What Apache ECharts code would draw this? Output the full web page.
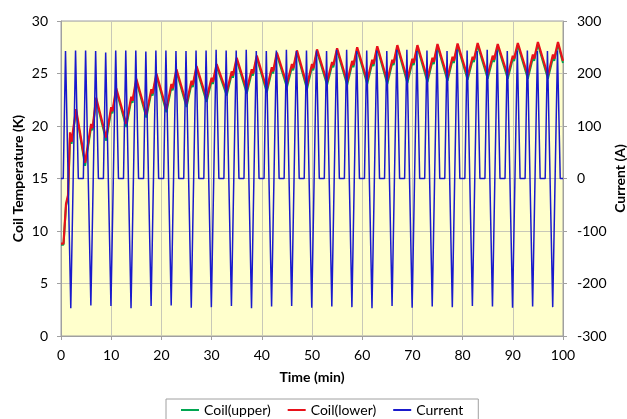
<!DOCTYPE html>
<html>
<head>
    <meta charset="utf-8">
    <title>Coil temperature and current</title>
    <script src="https://cdn.jsdelivr.net/npm/echarts@6/dist/echarts.min.js"></script>
</head>
<body style="margin:0;">
<div id="main" style="width: 627px;height:419px;"></div>
<script type="text/javascript">
    // current (A)
    var curTime = [0, 0.45, 0.9, 1.95, 2.9, 3.45,
        4.45, 4.9, 5.95, 6.9, 7.45,
        8.45, 8.9, 9.95, 10.9, 11.45,
        12.45, 12.9, 13.95, 14.9, 15.45,
        16.45, 16.9, 17.95, 18.9, 19.45,
        20.45, 20.9, 21.95, 22.9, 23.45,
        24.45, 24.9, 25.95, 26.9, 27.45,
        28.45, 28.9, 29.95, 30.9, 31.45,
        32.45, 32.9, 33.95, 34.9, 35.45,
        36.45, 36.9, 37.95, 38.9, 39.45,
        40.45, 40.9, 41.95, 42.9, 43.45,
        44.45, 44.9, 45.95, 46.9, 47.45,
        48.45, 48.9, 49.95, 50.9, 51.45,
        52.45, 52.9, 53.95, 54.9, 55.45,
        56.45, 56.9, 57.95, 58.9, 59.45,
        60.45, 60.9, 61.95, 62.9, 63.45,
        64.45, 64.9, 65.95, 66.9, 67.45,
        68.45, 68.9, 69.95, 70.9, 71.45,
        72.45, 72.9, 73.95, 74.9, 75.45,
        76.45, 76.9, 77.95, 78.9, 79.45,
        80.45, 80.9, 81.95, 82.9, 83.45,
        84.45, 84.9, 85.95, 86.9, 87.45,
        88.45, 88.9, 89.95, 90.9, 91.45,
        92.45, 92.9, 93.95, 94.9, 95.45,
        96.45, 96.9, 97.95, 98.9, 99.45,
        100];
    var curValue = [0, 0, 243, -247, 244, 0,
        0, 244, -242, 243, 0,
        0, 240, -243, 244, 0,
        0, 244, -247, 244, 0,
        0, 242, -243, 244, 0,
        0, 244, -242, 243, 0,
        0, 243, -246, 244, 0,
        0, 244, -245, 245, 0,
        0, 244, -243, 244, 0,
        0, 245, -247, 243, 0,
        0, 243, -244, 244, 0,
        0, 245, -243, 243, 0,
        0, 244, -246, 244, 0,
        0, 243, -244, 245, 0,
        0, 245, -245, 243, 0,
        0, 244, -247, 244, 0,
        0, 243, -243, 245, 0,
        0, 245, -246, 243, 0,
        0, 244, -244, 244, 0,
        0, 243, -245, 245, 0,
        0, 244, -243, 243, 0,
        0, 245, -244, 244, 0,
        0, 243, -246, 244, 0,
        0, 244, -244, 243, 0,
        0, 243, -245, 244, 0,
        0];

    // coil temperatures (K)
    var coilTime = [0, 0.5, 1.0, 1.4, 1.8, 2.1, 3.0,
        4.8, 6.0, 6.3, 7.0,
        9.0, 10.0, 10.25, 11.0,
        13.0, 14.0, 14.25, 15.0,
        17.0, 18.0, 18.25, 19.0,
        21.0, 22.0, 22.25, 23.0,
        25.0, 26.0, 26.25, 27.0,
        29.0, 30.0, 30.25, 31.0,
        33.0, 34.0, 34.25, 35.0,
        37.0, 38.0, 38.25, 39.0,
        41.0, 42.0, 42.25, 43.0,
        45.0, 46.0, 46.25, 47.0,
        49.0, 50.0, 50.25, 51.0,
        53.0, 54.0, 54.25, 55.0,
        57.0, 58.0, 58.25, 59.0,
        61.0, 62.0, 62.25, 63.0,
        65.0, 66.0, 66.25, 67.0,
        69.0, 70.0, 70.25, 71.0,
        73.0, 74.0, 74.25, 75.0,
        77.0, 78.0, 78.25, 79.0,
        81.0, 82.0, 82.25, 83.0,
        85.0, 86.0, 86.25, 87.0,
        89.0, 90.0, 90.25, 91.0,
        93.0, 94.0, 94.25, 95.0,
        97.0, 98.0, 98.25, 99.0,
        100];
    var coilLower = [8.8, 8.8, 12.6, 13.4, 19.4, 18.5, 21.6,
        16.5, 20.2, 19.8, 22.7,
        18.9, 21.8, 21.4, 23.6,
        20.2, 22.8, 22.4, 24.5,
        21.1, 23.5, 23.1, 25.0,
        21.6, 24.0, 23.6, 25.4,
        22.1, 24.3, 23.9, 25.7,
        22.6, 24.6, 24.2, 25.9,
        23.2, 25.2, 24.8, 26.5,
        23.4, 25.4, 25.0, 26.7,
        23.5, 25.6, 25.2, 27.0,
        24.0, 25.9, 25.5, 27.2,
        23.8, 25.9, 25.5, 27.3,
        24.2, 26.1, 25.8, 27.4,
        24.2, 26.2, 25.8, 27.5,
        24.3, 26.3, 25.9, 27.6,
        24.3, 26.3, 26.0, 27.7,
        24.4, 26.4, 26.0, 27.7,
        24.5, 26.5, 26.1, 27.8,
        24.6, 26.6, 26.2, 27.85,
        24.7, 26.6, 26.3, 27.9,
        24.8, 26.7, 26.3, 27.8,
        24.8, 26.7, 26.4, 27.9,
        24.8, 26.8, 26.4, 28.0,
        24.8, 26.8, 26.4, 28.0,
        26.2];
    var coilUpper = [8.7, 8.7, 12.4, 13.2, 19.1, 18.3, 21.4,
        16.2, 19.9, 19.6, 22.5,
        18.6, 21.5, 21.2, 23.4,
        19.9, 22.5, 22.2, 24.3,
        20.8, 23.2, 22.9, 24.8,
        21.3, 23.7, 23.4, 25.2,
        21.8, 24.0, 23.7, 25.5,
        22.3, 24.3, 24.0, 25.7,
        22.9, 24.9, 24.6, 26.3,
        23.1, 25.1, 24.8, 26.5,
        23.2, 25.3, 25.0, 26.8,
        23.7, 25.6, 25.3, 27.0,
        23.5, 25.6, 25.3, 27.1,
        23.9, 25.8, 25.6, 27.2,
        23.9, 25.9, 25.6, 27.3,
        24.0, 26.0, 25.7, 27.4,
        24.0, 26.0, 25.8, 27.5,
        24.1, 26.1, 25.8, 27.5,
        24.2, 26.2, 25.9, 27.6,
        24.3, 26.3, 26.0, 27.65,
        24.4, 26.3, 26.1, 27.7,
        24.5, 26.4, 26.1, 27.6,
        24.5, 26.4, 26.2, 27.7,
        24.5, 26.5, 26.2, 27.8,
        24.5, 26.5, 26.2, 27.8,
        26.0];

    var xTicks = [0, 10, 20, 30, 40, 50, 60, 70, 80, 90, 100];

    function pairs(xs, ys) {
        var out = [];
        for (var i = 0; i < xs.length; i++) {
            out.push([xs[i], ys[i]]);
        }
        return out;
    }

    var font = 'Lato';
    var myChart = echarts.init(document.getElementById('main'));

    var option = {
        animation: false,
        backgroundColor: '#ffffff',
        textStyle: { fontFamily: font },
        grid: {
            left: 61,
            right: 64,
            top: 21,
            bottom: 83,
            outerBoundsMode: 'none',
            containLabel: false,
            show: true,
            backgroundColor: '#ffffcc',
            borderColor: '#a0a0a0',
            borderWidth: 1
        },
        legend: {
            data: ['Coil(upper)', 'Coil(lower)', 'Current'],
            left: 166,
            top: 399,
            icon: 'rect',
            itemWidth: 18,
            itemHeight: 2,
            itemGap: 17,
            padding: [4, 15, 6, 15],
            borderColor: '#a0a0a0',
            borderWidth: 1,
            textStyle: { fontFamily: font, fontSize: 14, color: '#000' }
        },
        xAxis: {
            type: 'value',
            min: 0,
            max: 100,
            interval: 10,
            name: 'Time (min)',
            nameLocation: 'middle',
            nameGap: 34,
            nameMoveOverlap: false,
            nameTextStyle: { fontFamily: font, fontSize: 14, fontWeight: 'bold', color: '#000' },
            axisLine: { lineStyle: { color: '#a0a0a0' } },
            axisTick: { show: true, length: 4, lineStyle: { color: '#a0a0a0' } },
            axisLabel: {
                margin: 12, fontSize: 14, color: '#000',
                formatter: function (v) { return xTicks.indexOf(v) >= 0 ? String(v) : ''; }
            },
            splitLine: { show: true, lineStyle: { color: '#c8c8b8' } }
        },
        yAxis: [
            {
                type: 'value',
                min: 0,
                max: 30,
                interval: 5,
                name: 'Coil Temperature (K)',
                nameLocation: 'middle',
                nameRotate: 90,
                nameGap: 36,
                nameMoveOverlap: false,
                nameTextStyle: { fontFamily: font, fontSize: 14, fontWeight: 'bold', color: '#000' },
                axisLine: { show: true, lineStyle: { color: '#a0a0a0' } },
                axisTick: { show: true, length: 4, lineStyle: { color: '#a0a0a0' } },
                axisLabel: { margin: 13, fontSize: 14, color: '#000' },
                splitLine: { show: true, lineStyle: { color: '#c8c8b8' } }
            },
            {
                type: 'value',
                position: 'right',
                min: -300,
                max: 300,
                interval: 100,
                name: 'Current (A)',
                nameLocation: 'middle',
                nameRotate: 90,
                nameGap: 50,
                nameMoveOverlap: false,
                nameTextStyle: { fontFamily: font, fontSize: 14, fontWeight: 'bold', color: '#000' },
                axisLine: { show: true, lineStyle: { color: '#a0a0a0' } },
                axisTick: { show: true, length: 4, lineStyle: { color: '#a0a0a0' } },
                axisLabel: { margin: 14, fontSize: 14, color: '#000' },
                splitLine: { show: false }
            }
        ],
        series: [
            {
                name: 'Coil(upper)',
                type: 'line',
                showSymbol: false,
                color: '#00a651',
                lineStyle: { width: 2, color: '#00a651' },
                data: pairs(coilTime, coilUpper)
            },
            {
                name: 'Coil(lower)',
                type: 'line',
                showSymbol: false,
                color: '#e8111a',
                lineStyle: { width: 2.2, color: '#e8111a' },
                data: pairs(coilTime, coilLower)
            },
            {
                name: 'Current',
                type: 'line',
                yAxisIndex: 1,
                showSymbol: false,
                color: '#1a1acc',
                lineStyle: { width: 1.5, color: '#1a1acc' },
                data: pairs(curTime, curValue)
            }
        ]
    };

    myChart.setOption(option);
</script>
</body>
</html>
